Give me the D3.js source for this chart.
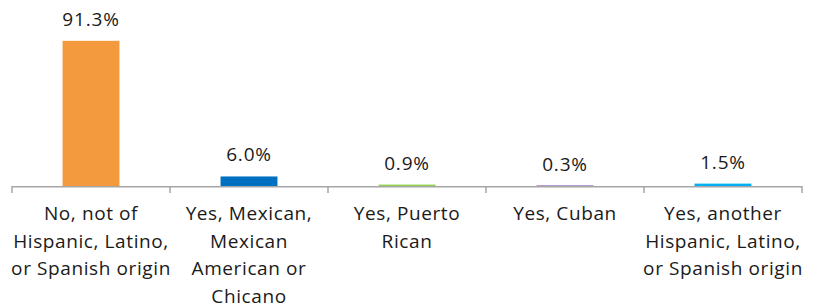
<!DOCTYPE html>
<html>
<head>
<meta charset="utf-8">
<script src="https://cdn.jsdelivr.net/npm/d3@7"></script>
<style>
  html, body { margin: 0; padding: 0; background: #fff; }
  svg { display: block; font-family: "Open Sans", Lato, sans-serif; }
</style>
</head>
<body>
<div id="chart"></div>
<script>
const categories = [
  ["No, not of", "Hispanic, Latino,", "or Spanish origin"],
  ["Yes, Mexican,", "Mexican", "American or", "Chicano"],
  ["Yes, Puerto", "Rican"],
  ["Yes, Cuban"],
  ["Yes, another", "Hispanic, Latino,", "or Spanish origin"]
]
const values = [91.3, 6.0, 0.9, 0.3, 1.5]
const colors = ["#F39A3E", "#0070C0", "#92D050", "#7030A0", "#00B0F0"]

const width = 815
const height = 308
const axisY = 186

const svg = d3
  .select("#chart")
  .append("svg")
  .attr("width", width)
  .attr("height", height)

const keys = values.map((d, i) => i)

const xScale = d3.scaleBand().domain(keys).range([12, 802]).paddingInner(0.64).paddingOuter(0.32)
// band used for the tick positions (category boundaries)
const xOuter = d3.scaleBand().domain(keys).range([12, 802])

const yScale = d3.scaleLinear().domain([0, 100]).range([axisY, 27])

// axis line and ticks
const axisColor = "#a6a6a6"
svg
  .append("line")
  .attr("x1", xOuter.range()[0])
  .attr("x2", xOuter.range()[1])
  .attr("y1", yScale(0) + 0.75)
  .attr("y2", yScale(0) + 0.75)
  .attr("stroke", axisColor)
  .attr("stroke-width", 1.5)

const tickXs = keys.map(i => xOuter(i)).concat([xOuter.range()[1]])
svg
  .selectAll(".tick")
  .data(tickXs)
  .join("line")
  .attr("class", "tick")
  .attr("x1", d => d)
  .attr("x2", d => d)
  .attr("y1", yScale(0))
  .attr("y2", yScale(0) + 7)
  .attr("stroke", axisColor)
  .attr("stroke-width", 1.5)

// bars
svg
  .selectAll(".bar")
  .data(values)
  .join("rect")
  .attr("class", "bar")
  .attr("x", (d, i) => xScale(i))
  .attr("y", d => yScale(d))
  .attr("width", xScale.bandwidth())
  .attr("height", d => yScale(0) - yScale(d))
  .attr("fill", (d, i) => colors[i])

// value labels
svg
  .selectAll(".value")
  .data(values)
  .join("text")
  .attr("class", "value")
  .attr("x", (d, i) => xOuter(i) + xOuter.bandwidth() / 2)
  .attr("y", d => yScale(d) - 15)
  .attr("text-anchor", "middle")
  .attr("font-size", 19)
  .attr("letter-spacing", 0.8)
  .attr("fill", "#1a1a1a")
  .text(d => d.toFixed(1) + "%")

// category labels
const catText = svg
  .selectAll(".cat")
  .data(categories)
  .join("text")
  .attr("class", "cat")
  .attr("text-anchor", "middle")
  .attr("font-size", 19)
  .attr("letter-spacing", 0.6)
  .attr("fill", "#1a1a1a")

catText
  .selectAll("tspan")
  .data((d, i) => d.map(line => ({ line, i })))
  .join("tspan")
  .attr("x", d => xOuter(d.i) + xOuter.bandwidth() / 2)
  .attr("y", (d, j) => 220 + j * 27.5)
  .text(d => d.line)
</script>
</body>
</html>
